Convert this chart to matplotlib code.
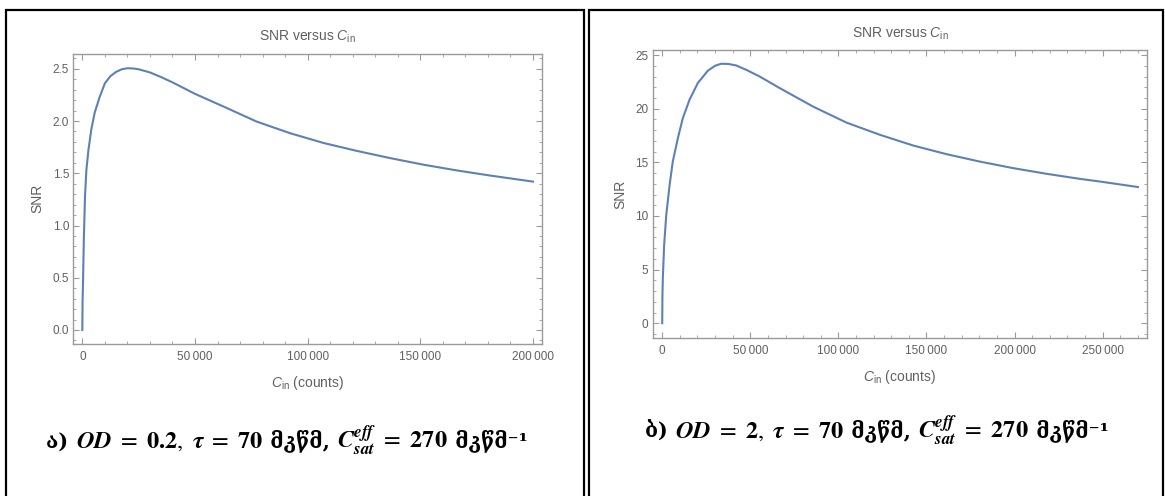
import numpy as np
import matplotlib.pyplot as plt
from matplotlib.patches import Rectangle
from matplotlib.ticker import MultipleLocator, FuncFormatter
from matplotlib.offsetbox import TextArea, HPacker, AnchoredOffsetbox

# Left panel (OD = 0.2)
cin_a = [0, 120, 300, 700, 1200, 1800, 2700, 4000, 5500, 7700, 10000, 12500,
         15000, 17500, 20000, 22500, 25000, 30000, 35000, 40000, 45000, 50000,
         62500, 77300, 92100, 107000, 121800, 136600, 151400, 166200, 181000, 200000]
snr_a = [0, 0.27, 0.45, 0.89, 1.28, 1.53, 1.72, 1.92, 2.08, 2.23, 2.36, 2.43,
         2.47, 2.495, 2.505, 2.503, 2.495, 2.465, 2.42, 2.37, 2.315, 2.26,
         2.14, 1.995, 1.884, 1.79, 1.714, 1.645, 1.582, 1.527, 1.478, 1.42]

# Right panel (OD = 2)
cin_b = [0, 120, 350, 1100, 2300, 4200, 6000, 8900, 11700, 15500, 20200, 25900,
         30000, 33500, 37500, 42000, 48000, 55300, 66700, 85600, 104500, 123500,
         142400, 161400, 180300, 199200, 218200, 237100, 248500, 270000]
snr_b = [0, 2.5, 4.2, 7.3, 10.1, 12.9, 15.07, 17.26, 19.12, 20.83, 22.39, 23.54,
         24.0, 24.19, 24.17, 24.03, 23.6, 23.0, 21.92, 20.2, 18.71, 17.57,
         16.57, 15.76, 15.07, 14.46, 13.93, 13.46, 13.21, 12.7]

od_labels = ["ა)", "ბ)"]
od_values = ["0.2", "2"]
tau_value = "70"
csat_value = "270"
unit = "მკწმ"

plt.rcParams['font.family'] = ['Liberation Sans', 'DejaVu Sans']
plt.rcParams['mathtext.fontset'] = 'custom'
plt.rcParams['mathtext.it'] = 'Liberation Sans:italic'
plt.rcParams['mathtext.rm'] = 'Liberation Sans'

LINE = '#5E81B5'
FRAME = '#9a9a9a'
TXT = '#606060'

W, H = 1165, 496
fig = plt.figure(figsize=(W / 100, H / 100), dpi=100)

# outer boxes
for x0, x1 in [(6, 584), (589, 1163)]:
    fig.add_artist(Rectangle((x0 / W, -0.1), (x1 - x0) / W, (H - 10) / H + 0.1,
                             transform=fig.transFigure, fill=False,
                             edgecolor='black', linewidth=1.6))


def thin(v, pos):
    s = f"{int(round(v)):,}"
    return s.replace(",", "\u2009")


def setup(ax, xlim, ylim, ymaj, ymin, yfmt):
    ax.set_xlim(*xlim)
    ax.set_ylim(*ylim)
    ax.xaxis.set_major_locator(MultipleLocator(50000))
    ax.xaxis.set_minor_locator(MultipleLocator(10000))
    ax.yaxis.set_major_locator(MultipleLocator(ymaj))
    ax.yaxis.set_minor_locator(MultipleLocator(ymin))
    ax.xaxis.set_major_formatter(FuncFormatter(thin))
    ax.yaxis.set_major_formatter(FuncFormatter(yfmt))
    ax.tick_params(which='both', direction='in', top=True, right=True,
                   colors=FRAME, labelcolor=TXT, labelsize=8.5)
    ax.tick_params(which='major', length=4, width=0.8)
    ax.tick_params(which='minor', length=2.2, width=0.6)
    ax.tick_params(axis='x', pad=5)
    ax.tick_params(axis='y', pad=3)
    for sp in ax.spines.values():
        sp.set_color(FRAME)
        sp.set_linewidth(1.0)
    ax.set_title("SNR versus $C_{\\mathrm{in}}$", color=TXT, fontsize=10, pad=9)
    ax.set_xlabel("$C_{\\mathrm{in}}$ (counts)", color=TXT, fontsize=10, labelpad=8)
    ax.set_ylabel("SNR", color=TXT, fontsize=10, labelpad=6)


ax1 = fig.add_axes([73.3 / W, (H - 344) / H, (542 - 73.3) / W, (344 - 53.5) / H])
ax1.plot(cin_a, snr_a, color=LINE, lw=1.5)
setup(ax1, (-4000, 204000), (-0.134, 2.646), 0.5, 0.1, lambda v, p: f"{v:.1f}")

ax2 = fig.add_axes([652.7 / W, (H - 338.3) / H, (1147.4 - 652.7) / W, (338.3 - 50) / H])
ax2.plot(cin_b, snr_b, color=LINE, lw=1.5)
setup(ax2, (-5400, 275400), (-1.4, 25.47), 5, 1, lambda v, p: f"{v:.0f}")

# captions: Georgian parts as plain text (font fallback), math parts in STIX
geo = dict(fontsize=15, fontweight='bold', family=['DejaVu Serif', 'DejaVu Sans'])
mth = dict(fontsize=17.5, math_fontfamily='stix')


def caption(i, xc, yc):
    parts = [
        TextArea(od_labels[i] + " ", textprops=geo),
        TextArea("$\\mathbfit{OD}\\ =\\ \\mathbf{" + od_values[i] + "},\\ \\mathbfit{\\tau}\\ =\\ \\mathbf{"
                 + tau_value + "}$", textprops=mth),
        TextArea(" " + unit + ", ", textprops=geo),
        TextArea("$\\mathbfit{C}_{\\mathbfit{sat}}^{\\mathbfit{eff}}\\ =\\ \\mathbf{"
                 + csat_value + "}$", textprops=mth),
        TextArea(" " + unit + "⁻¹", textprops=geo),
    ]
    row = HPacker(children=parts, align='baseline', pad=0, sep=0)
    box = AnchoredOffsetbox(loc='center', child=row, frameon=False, pad=0,
                            bbox_to_anchor=(xc / W, 1 - yc / H),
                            bbox_transform=fig.transFigure)
    fig.add_artist(box)


caption(0, 287, 440)
caption(1, 877, 430)

fig.savefig('out.png', dpi=100)
